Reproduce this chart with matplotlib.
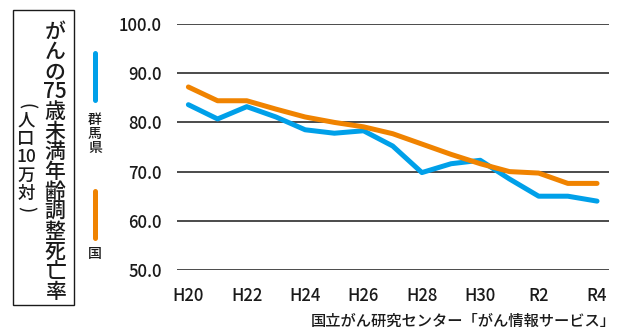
import numpy as np
import matplotlib
matplotlib.use("Agg")
import matplotlib.pyplot as plt
from matplotlib.lines import Line2D

plt.rcParams['font.family'] = ['Noto Sans CJK JP', 'DejaVu Sans']
plt.rcParams['font.weight'] = 'medium'

W, H = 617, 330

# 75歳未満年齢調整死亡率 (H20 .. R4)
years = ['H20', 'H21', 'H22', 'H23', 'H24', 'H25', 'H26', 'H27',
         'H28', 'H29', 'H30', 'R1', 'R2', 'R3', 'R4']
gunma = [83.6, 80.7, 83.2, 81.1, 78.5, 77.8, 78.3, 75.2,
         69.8, 71.6, 72.3, 68.5, 65.0, 65.0, 64.0]
national = [87.2, 84.4, 84.4, 82.7, 81.1, 80.0, 79.1, 77.7,
            75.6, 73.5, 71.6, 70.0, 69.7, 67.6, 67.6]
yticks = [50, 60, 70, 80, 90, 100]

blue = '#00a0e9'
orange = '#f08300'
ink = '#1a1a1a'


def fx(x):
    return x / W


def fy(y):
    return 1 - y / H


fig = plt.figure(figsize=(W / 100, H / 100), dpi=100)
ax = fig.add_axes([fx(177), fy(270), fx(609) - fx(177), fy(24) - fy(270)])

x = np.arange(len(years))
ax.plot(x, gunma, color=blue, lw=3.6, solid_capstyle='round', solid_joinstyle='round', zorder=3)
ax.plot(x, national, color=orange, lw=3.6, solid_capstyle='round', solid_joinstyle='round', zorder=4)

ax.set_xlim(-0.39, 14.41)
ax.set_ylim(50, 100)
ax.set_yticks(yticks)
ax.set_yticklabels([f'{v:.1f}' for v in yticks])
ax.set_xticks(x[::2])
ax.set_xticklabels(years[::2])
ax.tick_params(length=0, labelsize=12, colors=ink, pad=11)
ax.tick_params(axis='x', pad=12)
for s in ax.spines.values():
    s.set_visible(False)
ax.grid(axis='y', color=ink, lw=1.1)
ax.set_axisbelow(True)


def vcolumn(cells, xc, top, step, size):
    y = top
    for c in cells:
        paren = c in '()'
        h = step * (0.55 if paren else 1.0)
        fig.text(fx(xc), fy(y + h / 2), c, ha='center', va='center',
                 fontsize=size, color=ink, rotation=-90 if paren else 0,
                 rotation_mode='anchor')
        y += h


# title box with vertical text
fig.add_artist(plt.Rectangle((fx(13), fy(305)), fx(74) - fx(13), fy(10) - fy(305),
                             transform=fig.transFigure, fill=False, ec=ink, lw=1.0))
title_cells = ['が', 'ん', 'の', '75', '歳', '未', '満', '年', '齢', '調', '整', '死', '亡', '率']
vcolumn(title_cells, 55, 22, 20, 15)
unit_cells = ['(', '人', '口', '10', '万', '対', ')']
vcolumn(unit_cells, 26, 101, 18.5, 12.5)

# legend
fig.add_artist(Line2D([fx(95), fx(95)], [fy(53), fy(100)], color=blue, lw=3.6,
                      solid_capstyle='round', transform=fig.transFigure))
fig.add_artist(Line2D([fx(95), fx(95)], [fy(191), fy(238)], color=orange, lw=3.6,
                      solid_capstyle='round', transform=fig.transFigure))
vcolumn(['群', '馬', '県'], 95, 113, 14, 10)
vcolumn(['国'], 95, 247, 14, 10)

fig.text(fx(616), fy(321), '国立がん研究センター「がん情報サービス」',
         ha='right', va='center', fontsize=11, color=ink)

fig.savefig('out.png', dpi=100, facecolor='white')
